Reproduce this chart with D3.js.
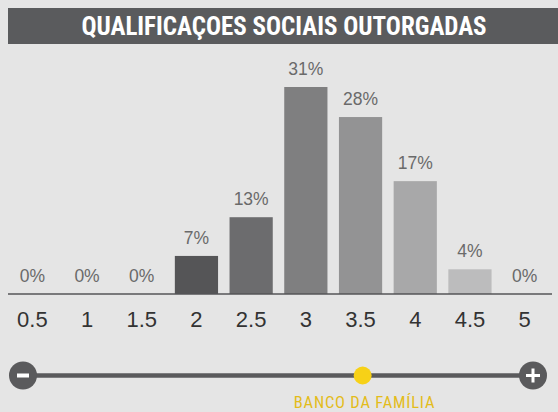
<!DOCTYPE html>
<html>
<head>
<meta charset="utf-8">
<script src="https://cdn.jsdelivr.net/npm/d3@7"></script>
<style>
  body { margin: 0; background: #e5e5e5; }
  svg { display: block; }
</style>
</head>
<body>
<div id="chart"></div>
<script>
var categories = ['0.5', '1', '1.5', '2', '2.5', '3', '3.5', '4', '4.5', '5'];
// bar heights (percent)
var values = [0, 0, 0, 5.7, 11.5, 31, 26.5, 16.9, 3.7, 0];
// printed labels
var valueLabels = ['0%', '0%', '0%', '7%', '13%', '31%', '28%', '17%', '4%', '0%'];
var barColors = ['#555557', '#555557', '#555557', '#555557', '#6c6c6e', '#7f7f80', '#939394', '#a8a8a9', '#bcbcbd', '#bcbcbd'];
var titleText = 'QUALIFICAÇOES SOCIAIS OUTORGADAS';
var bankName = 'BANCO DA FAMÍLIA';
var bankScore = 3.33;

var width = 558, height = 412;
var baseY = 294;
var condensed = '"Liberation Sans Narrow", "Roboto Condensed", "Arial Narrow", sans-serif';

var svg = d3.select('#chart').append('svg')
    .attr('width', width)
    .attr('height', height);

svg.append('rect').attr('width', width).attr('height', height).attr('fill', '#e5e5e5');

// title bar
svg.append('rect')
    .attr('x', 8).attr('y', 8)
    .attr('width', 550).attr('height', 36)
    .attr('fill', '#5a5b5d');
svg.append('text')
    .attr('x', 284).attr('y', 35)
    .attr('text-anchor', 'middle')
    .attr('fill', '#ffffff')
    .attr('font-family', condensed)
    .attr('font-weight', 'bold')
    .attr('font-size', 25)
    .text(titleText);

var x = d3.scaleBand()
    .domain(categories)
    .range([5, 552])
    .paddingInner(0.21)
    .paddingOuter(0.105);

var y = d3.scaleLinear()
    .domain([0, 31])
    .range([baseY, 87]);

var bars = svg.selectAll('.bar')
    .data(categories)
    .enter()
    .append('g')
    .attr('class', 'bar');

bars.append('rect')
    .attr('x', function(d) { return x(d); })
    .attr('y', function(d, i) { return y(values[i]); })
    .attr('width', x.bandwidth())
    .attr('height', function(d, i) { return baseY - y(values[i]); })
    .attr('fill', function(d, i) { return barColors[i]; });

bars.append('text')
    .attr('x', function(d) { return x(d) + x.bandwidth() / 2; })
    .attr('y', function(d, i) { return y(values[i]) - 12; })
    .attr('text-anchor', 'middle')
    .attr('fill', '#6a6a6a')
    .attr('font-family', 'Liberation Sans, sans-serif')
    .attr('font-size', 17.5)
    .text(function(d, i) { return valueLabels[i]; });

// baseline
svg.append('line')
    .attr('x1', 8).attr('x2', 552)
    .attr('y1', baseY).attr('y2', baseY)
    .attr('stroke', '#555557')
    .attr('stroke-width', 1.5);

// x axis labels
var axis = d3.axisBottom(x).tickSize(0).tickPadding(0);
var gAxis = svg.append('g')
    .attr('transform', 'translate(0,' + (baseY + 17) + ')')
    .call(axis);
gAxis.select('.domain').remove();
gAxis.selectAll('text')
    .attr('fill', '#333333')
    .attr('font-family', 'Liberation Sans, sans-serif')
    .attr('font-size', 22)
    .attr('dy', '0.71em');

// slider
var sx = d3.scaleLinear().domain([0, 5]).range([23, 533]);
var sy = 375.5;
svg.append('line')
    .attr('x1', sx(0)).attr('x2', sx(5))
    .attr('y1', sy).attr('y2', sy)
    .attr('stroke', '#5a5a5c')
    .attr('stroke-width', 4.5);
svg.append('circle').attr('cx', sx(0)).attr('cy', sy).attr('r', 14).attr('fill', '#5a5a5c');
svg.append('circle').attr('cx', sx(5)).attr('cy', sy).attr('r', 14).attr('fill', '#5a5a5c');
// minus
svg.append('rect')
    .attr('x', sx(0) - 6).attr('y', sy - 2)
    .attr('width', 12).attr('height', 4)
    .attr('fill', '#ffffff');
// plus
svg.append('rect')
    .attr('x', sx(5) - 7).attr('y', sy - 1.5)
    .attr('width', 14).attr('height', 3)
    .attr('fill', '#ffffff');
svg.append('rect')
    .attr('x', sx(5) - 1.5).attr('y', sy - 7)
    .attr('width', 3).attr('height', 14)
    .attr('fill', '#ffffff');

svg.append('circle')
    .attr('cx', sx(bankScore)).attr('cy', sy)
    .attr('r', 9)
    .attr('fill', '#f7d117');
svg.append('text')
    .attr('x', 364.5).attr('y', 408)
    .attr('text-anchor', 'middle')
    .attr('fill', '#e3bc1b')
    .attr('font-family', condensed)
    .attr('font-size', 16.5)
    .attr('letter-spacing', 0.8)
    .text(bankName);
</script>
</body>
</html>
